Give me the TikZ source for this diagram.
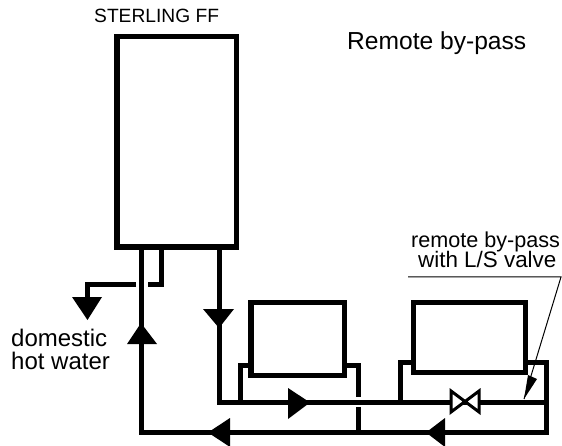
\documentclass[tikz,border=0pt]{standalone}
\usepackage{fontspec}
\setmainfont{Liberation Sans}
\begin{document}
\begin{tikzpicture}[x=1pt,y=-1pt,
  pipe/.style={line width=5pt,line cap=butt,line join=miter},
  unit/.style={draw,line width=5.2pt,fill=white,line join=miter},
  head/.style={fill=black,draw=none},
  label/.style={inner sep=0pt,anchor=base west}]
\useasboundingbox (0,0) rectangle (562,446);
% pipes
\coordinate (rtop) at (141,247);
\coordinate (rbl) at (141,432.5);
\coordinate (rbr) at (546,432.5);
\coordinate (frt) at (219,247);
\coordinate (fbl) at (219,402.5);
\coordinate (fbr) at (546,402.5);
\draw[pipe] (rtop) -- (rbl) -- (rbr) -- (546,362) -- (400.5,362) -- (400.5,402.5);
\draw[pipe] (frt) -- (fbl) -- (fbr);
\draw[pipe] (161.5,247) -- (161.5,284.5) -- (148,284.5);
\draw[pipe] (136,284.5) -- (87.5,284.5) -- (87.5,300);
\draw[pipe] (240,402.5) -- (240,365.5) -- (255,365.5);
\draw[pipe] (340,365.5) -- (358,365.5) -- (358,397);
\draw[pipe] (358,407) -- (358,432.5);
% units
\draw[unit] (117,36.5) rectangle (236.5,247);
\draw[unit] (251,302.5) rectangle (344.5,375.5);
\draw[unit] (413.5,302.5) rectangle (525.5,372.5);
% arrowheads
\fill[head] (72,297) -- (102,297) -- (87.5,320) -- cycle;
\fill[head] (127,344) -- (157,344) -- (141,323) -- cycle;
\fill[head] (203,309) -- (234,309) -- (219,328) -- cycle;
\fill[head] (288,388) -- (288,419) -- (310,402.5) -- cycle;
\fill[head] (230,418) -- (230,447) -- (208,432.5) -- cycle;
\fill[head] (445,418) -- (445,447) -- (426,432.5) -- cycle;
% valve
\draw[line width=3pt,fill=white,line join=miter] (451,391) -- (451,412) -- (479,391) -- (479,412) -- cycle;
% leader
\coordinate (lla) at (408,277);
\coordinate (llb) at (561,277);
\coordinate (tip) at (524,399);
\draw[line width=1pt] (lla) -- (llb) -- (tip);
\fill[head] (tip) -- (528,375) -- (537,379) -- cycle;
% labels
\node[label,font=\fontsize{19.2}{21}\selectfont] (sterling) at (94,23) {STERLING FF};
\node[label,font=\fontsize{24.6}{27}\selectfont] (title) at (347,50) {Remote by-pass};
\node[label,font=\fontsize{24}{26}\selectfont] (dhwa) at (11,346) {domestic};
\node[label,font=\fontsize{24}{26}\selectfont] (dhwb) at (11,369) {hot water};
\node[label,font=\fontsize{21.6}{24}\selectfont] (bypassa) at (411,248) {remote by-pass};
\node[label,font=\fontsize{22.4}{24}\selectfont] (bypassb) at (418,268) {with L/S valve};
\end{tikzpicture}
\end{document}
